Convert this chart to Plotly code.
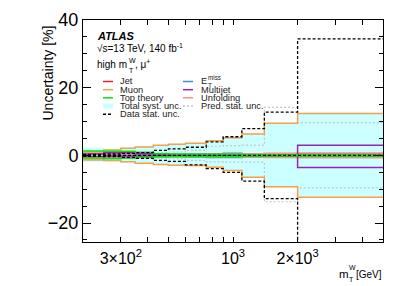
import numpy as np
import plotly.graph_objects as go

# ---------------- data ----------------
edges = [200, 250, 300, 350, 425, 500, 600, 750, 900, 1100, 1400, 2000, 5000]

total_up   = [2.3, 2.0, 2.3, 2.7, 3.1, 3.4, 3.7, 4.4, 5.3, 6.4, 9.6, 12.5]
total_down = [-1.9, -1.8, -2.1, -2.4, -2.8, -3.0, -3.1, -3.6, -4.6, -6.6, -9.4, -12.5]

muon_up   = [1.0, 1.6, 2.1, 2.5, 3.0, 3.3, 3.6, 4.3, 5.2, 6.3, 9.5, 12.4]
muon_down = [-1.3, -1.5, -1.9, -2.3, -2.7, -2.9, -3.0, -3.5, -4.5, -6.5, -9.3, -12.4]

data_stat_up   = [0.3, 0.4, 0.6, 0.8, 1.5, 1.9, 2.4, 4.0, 5.5, 7.9, 12.8, 34.4]
data_stat_down = [-0.3, -0.4, -0.6, -0.9, -1.5, -1.8, -2.8, -3.9, -5.0, -7.6, -12.8, -34.4]

pred_stat_up   = [0.3, 0.4, 0.5, 0.6, 0.8, 1.0, 1.5, 2.7, 2.9, 3.0, 14.2, 9.7]
pred_stat_down = [-0.3, -0.4, -0.5, -0.6, -0.8, -1.0, -1.5, -1.9, -2.0, -2.0, -13.7, -9.6]

multijet_up   = [0.4, 0.8, 0.8, 0.5, 0.1, 0.1, 0.1, 0.1, 0.1, 0.1, 0.1, 3.0]
multijet_down = [-0.3, -0.2, -0.2, -0.2, -0.1, -0.1, -0.1, -0.1, -0.1, -0.1, -0.1, -3.6]

top_up   = [1.3, 1.2, 1.2, 0.9, 0.5, 0.4, 0.3, 0.3, 0.3, 0.2, 0.2, 0.2]
top_down = [-0.8, -0.9, -0.8, -0.6, -0.4, -0.3, -0.3, -0.3, -0.3, -0.2, -0.2, -0.2]

met_up   = [0.3, 0.2, 0.2, 0.2, 0.2, 0.2, 0.4, 0.5, 0.6, 0.5, 0.3, 0.3]
met_down = [-1.2, -0.9, -0.7, -0.5, -0.4, -0.4, -0.5, -0.6, -0.6, -0.5, -0.3, -0.3]

jet_up   = [0.4, 0.3, 0.3, 0.3, 0.2, 0.2, 0.2, 0.3, 0.3, 0.3, 0.3, 0.5]
jet_down = [-0.4, -0.3, -0.3, -0.3, -0.2, -0.2, -0.2, -0.3, -0.3, -0.3, -0.3, -0.5]

unf_up   = [0.6, 0.5, 0.4, 0.4, 0.3, 0.3, 0.3, 0.4, 0.4, 0.5, 0.6, 0.7]
unf_down = [-0.6, -0.5, -0.4, -0.4, -0.3, -0.3, -0.3, -0.4, -0.4, -0.5, -0.6, -0.7]

x_tickvals = [300, 1000, 2000]
x_ticktext = ["3×10<sup>2</sup>", "10<sup>3</sup>", "2×10<sup>3</sup>"]
x_minor = [200, 400, 500, 600, 700, 800, 900, 3000, 4000]
y_tickvals = [-20, 0, 20, 40]

# ---------------- style ----------------
C_JET = "#e8202a"
C_MUON = "#f5a04a"
C_TOP = "#00e600"
C_TOT = "#ccffff"
C_MET = "#3f8fcf"
C_MJ = "#9a22b8"
C_UNF = "#ff8c8c"
C_PRED = "#c4c4c4"
FONT = "Liberation Sans, Arial, sans-serif"

def step(vals):
    return list(vals) + [vals[-1]]

fig = go.Figure()

# total syst band
fig.add_trace(go.Scatter(x=edges, y=step(total_down), mode="lines",
                         line=dict(width=0, shape="hv"), showlegend=False,
                         hoverinfo="skip"))
fig.add_trace(go.Scatter(x=edges, y=step(total_up), mode="lines",
                         line=dict(width=0, shape="hv"), fill="tonexty",
                         fillcolor=C_TOT, showlegend=False, hoverinfo="skip"))

def add_pair(up, down, color, width=1.5, dash=None):
    for v in (up, down):
        fig.add_trace(go.Scatter(x=edges, y=step(v), mode="lines",
                                 line=dict(color=color, width=width, shape="hv",
                                           dash=dash),
                                 showlegend=False, hoverinfo="skip"))

add_pair(pred_stat_up, pred_stat_down, C_PRED, 1.2, "2px,2px")
add_pair(jet_up, jet_down, C_JET)
add_pair(met_up, met_down, C_MET)
add_pair(muon_up, muon_down, C_MUON)
add_pair(unf_up, unf_down, C_UNF)
add_pair(multijet_up, multijet_down, C_MJ)
add_pair(top_up, top_down, C_TOP)
add_pair(data_stat_up, data_stat_down, "black", 1.3, "3px,2px")

fig.add_hline(y=0, line=dict(color="black", width=1.2, dash="3px,2px"))

# ---------------- layout ----------------
OFF = 8  # page body margin offset
L, T = 75, 12
PW, PH = 300, 222
W, H = 391, 278
R = W - L - PW
B = H - T - PH

def px(xp):
    return (xp - OFF - L) / PW

def py(yp):
    return (T + PH - (yp - OFF)) / PH

fig.update_layout(
    width=W, height=H,
    margin=dict(l=L, r=R, t=T, b=B, autoexpand=False),
    paper_bgcolor="white", plot_bgcolor="white",
    font=dict(family=FONT, color="black"),
    showlegend=False,
    xaxis=dict(type="log", range=[np.log10(200), np.log10(5000)],
               tickvals=x_tickvals, ticktext=x_ticktext,
               ticks="inside", ticklen=5, tickwidth=1, tickcolor="black",
               showline=True, linecolor="black", linewidth=1, mirror="ticks",
               showgrid=False, zeroline=False,
               tickfont=dict(size=16, family=FONT),
               ticklabelstandoff=2,
               minor=dict(tickvals=x_minor, ticks="inside", ticklen=5,
                          tickcolor="black", showgrid=False)),
    xaxis2=dict(type="log", range=[np.log10(200), np.log10(5000)],
                overlaying="x", anchor="y", tickvals=[1000],
                ticks="inside", ticklen=9, tickcolor="black",
                showticklabels=False, showgrid=False, zeroline=False,
                showline=False, mirror="ticks"),
    yaxis=dict(range=[-25.6, 40], tickvals=y_tickvals,
               ticks="inside", ticklen=8, tickwidth=1, tickcolor="black",
               showline=True, linecolor="black", linewidth=1, mirror="ticks",
               showgrid=False, zeroline=False,
               tickfont=dict(size=18, family=FONT),
               minor=dict(dtick=5, ticks="inside", ticklen=4,
                          tickcolor="black", showgrid=False)),
)

ann = []

def text(t, x, y, size, xanchor="left", yanchor="middle", **kw):
    ann.append(dict(text=t, x=px(x), y=py(y), xref="paper", yref="paper",
                    xanchor=xanchor, yanchor=yanchor, showarrow=False,
                    font=dict(size=size, family=FONT,
                              color=kw.pop("color", "black")), **kw))

text("Uncertainty [%]", 47, 24, 14, xanchor="center", yanchor="top",
     textangle=-90)

# x-axis title  m_T^W [GeV]
text("m", 337, 274, 11.5)
text("W", 347, 267.5, 7)
text("T", 347, 279.5, 7)
text("[GeV]", 384, 274, 10, xanchor="right")

text("<b><i>ATLAS</i></b>", 95, 36, 11)
text("√s=13 TeV, 140 fb<sup>-1</sup>", 95, 48, 10)
text("high m", 95, 64.5, 10)
text("W", 126.5, 60, 7)
text("T", 126.5, 70, 7)
text(", μ<sup>+</sup>", 132.5, 64.5, 10)

shapes = []
leg1 = [("Jet", C_JET, "line", None), ("Muon", C_MUON, "line", None),
        ("Top theory", C_TOP, "line", None),
        ("Total syst. unc.", C_TOT, "box", None),
        ("Data stat. unc.", "black", "line", "3px,2px")]
leg2 = [("E", C_MET, "line", None),
        ("Multijet", C_MJ, "line", None), ("Unfolding", C_UNF, "line", None),
        ("Pred. stat. unc.", C_PRED, "line", "2px,2px")]
rows = [81.5, 89.7, 97.8, 106.0, 114.2]
LEGSIZE = 9.3

for items, x0, x1, xt in [(leg1, 103, 113, 118), (leg2, 183, 193, 199)]:
    for (lab, col_, kind, dash), yy in zip(items, rows):
        if kind == "line":
            shapes.append(dict(type="line", xref="paper", yref="paper",
                               x0=px(x0), x1=px(x1), y0=py(yy), y1=py(yy),
                               line=dict(color=col_, width=1.5,
                                         dash=dash or "solid")))
        else:
            shapes.append(dict(type="rect", xref="paper", yref="paper",
                               x0=px(x0), x1=px(x1), y0=py(yy + 2.6),
                               y1=py(yy - 2.6), fillcolor=col_,
                               line=dict(width=0)))
        text(lab, xt, yy, LEGSIZE, color="#222222")

# superscript / subscript of E_T^miss
text("miss", 205.5, 77.5, 6.3, color="#222222")
text("T", 205.5, 85.3, 6.3, color="#222222")

fig.update_layout(annotations=ann, shapes=list(fig.layout.shapes) + shapes)

fig.write_html("out.html")
